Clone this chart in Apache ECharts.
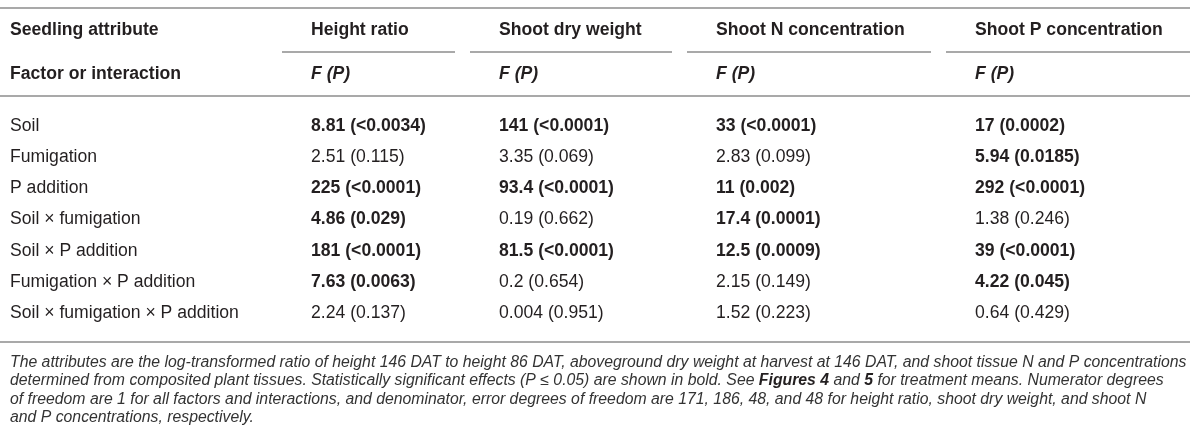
<!DOCTYPE html>
<html>
<head>
<meta charset="utf-8">
<script src="https://cdn.jsdelivr.net/npm/echarts@6/dist/echarts.min.js"></script>
<style>
  html, body { margin: 0; padding: 0; background: #fff; }
  #main { width: 1200px; height: 441px; }
</style>
</head>
<body>
<div id="main"></div>
<script>
// table contents
var factors = [
  "Soil",
  "Fumigation",
  "P addition",
  "Soil \u00d7 fumigation",
  "Soil \u00d7 P addition",
  "Fumigation \u00d7 P addition",
  "Soil \u00d7 fumigation \u00d7 P addition",
];
var attributes = ["Height ratio", "Shoot dry weight", "Shoot N concentration", "Shoot P concentration"];
var headerRows = ["Seedling attribute", "Factor or interaction"];

var heightF = [8.81, 2.51, 225, 4.86, 181, 7.63, 2.24];
var heightP = ["<0.0034", "0.115", "<0.0001", "0.029", "<0.0001", "0.0063", "0.137"];
var dryF = [141, 3.35, 93.4, 0.19, 81.5, 0.2, 0.004];
var dryP = ["<0.0001", "0.069", "<0.0001", "0.662", "<0.0001", "0.654", "0.951"];
var nF = [33, 2.83, 11, 17.4, 12.5, 2.15, 1.52];
var nP = ["<0.0001", "0.099", "0.002", "0.0001", "0.0009", "0.149", "0.223"];
var pF = [17, 5.94, 292, 1.38, 39, 4.22, 0.64];
var pP = ["0.0002", "0.0185", "<0.0001", "0.246", "<0.0001", "0.045", "0.429"];

var captionLines = [
  "The attributes are the log-transformed ratio of height 146 DAT to height 86 DAT, aboveground dry weight at harvest at 146 DAT, and shoot tissue N and P concentrations",
  "determined from composited plant tissues. Statistically significant effects (P \u2264 0.05) are shown in bold. See {b|Figures 4} and {b|5} for treatment means. Numerator degrees",
  "of freedom are 1 for all factors and interactions, and denominator, error degrees of freedom are 171, 186, 48, and 48 for height ratio, shoot dry weight, and shoot N",
  "and P concentrations, respectively.",
];

// layout (table units along the x axis)
var colX = [10, 311, 499, 716, 975];
var ruleEnd = 1190;
var FONT = "'Liberation Sans', Arial, Helvetica, sans-serif";
var TEXT = "#231f20";
var RULE = "#8c8c8c";

var fColumns = [heightF, dryF, nF, pF];
var pColumns = [heightP, dryP, nP, pP];

// body cells, bold when P <= 0.05
var bodyCells = [];
factors.forEach(function (f, r) {
  bodyCells.push({ col: 0, row: r, text: f, bold: false, italic: false });
  fColumns.forEach(function (fs, c) {
    var p = pColumns[c][r];
    bodyCells.push({
      col: c + 1,
      row: r,
      text: fs[r] + " (" + p + ")",
      bold: parseFloat(p.replace("<", "")) <= 0.05,
      italic: false,
    });
  });
});

var headCells = [{ col: 0, row: 0, text: headerRows[0], bold: true, italic: false }];
attributes.forEach(function (a, c) {
  headCells.push({ col: c + 1, row: 0, text: a, bold: true, italic: false });
});
headCells.push({ col: 0, row: 1, text: headerRows[1], bold: true, italic: false });
attributes.forEach(function (a, c) {
  headCells.push({ col: c + 1, row: 1, text: "F (P)", bold: true, italic: true });
});

function textItem(cells) {
  return function (params, api) {
    var cell = cells[params.dataIndex];
    var pt = api.coord([colX[cell.col], cell.row]);
    return {
      type: "text",
      x: pt[0],
      y: pt[1],
      style: {
        text: cell.text,
        fill: TEXT,
        fontFamily: FONT,
        fontSize: 17.6,
        fontWeight: cell.bold ? "bold" : "normal",
        fontStyle: cell.italic ? "italic" : "normal",
        align: "left",
        verticalAlign: "middle",
      },
    };
  };
}

function hline(x1, x2, y) {
  return { type: "line", shape: { x1: x1, y1: y, x2: x2, y2: y }, style: { stroke: RULE, lineWidth: 1.6 } };
}

var myChart = echarts.init(document.getElementById("main"));

var option = {
  animation: false,
  backgroundColor: "#fff",
  title: {
    left: 10,
    top: 353,
    padding: 0,
    text: captionLines.join("\n"),
    textStyle: {
      fontFamily: FONT,
      fontSize: 15.8,
      fontStyle: "italic",
      fontWeight: "normal",
      color: "#333",
      lineHeight: 18.6,
      rich: {
        b: { fontFamily: FONT, fontSize: 15.8, fontStyle: "italic", fontWeight: "bold", color: "#231f20", lineHeight: 18.6 },
      },
    },
  },
  grid: [
    { left: 0, right: 0, top: 8, height: 88 },
    { left: 0, right: 0, top: 110, height: 219 },
  ],
  xAxis: [
    { type: "value", gridIndex: 0, min: 0, max: 1200, show: false },
    { type: "value", gridIndex: 1, min: 0, max: 1200, show: false },
  ],
  yAxis: [
    { type: "category", gridIndex: 0, data: headerRows, inverse: true, show: false },
    { type: "category", gridIndex: 1, data: factors, inverse: true, show: false },
  ],
  series: [
    {
      type: "custom",
      name: "rules",
      xAxisIndex: 0,
      yAxisIndex: 0,
      data: [[0, 0]],
      renderItem: function (params, api) {
        var band = api.size([0, 1])[1];
        var row0 = api.coord([0, 0])[1];
        var row1 = api.coord([0, 1])[1];
        var x0 = api.coord([0, 0])[0];
        var xe = api.coord([ruleEnd, 0])[0];
        var lines = [hline(x0, xe, row0 - band / 2), hline(x0, xe, row1 + band / 2)];
        for (var c = 1; c < colX.length; c++) {
          var s = api.coord([colX[c] - 29, 0])[0];
          var e = c + 1 < colX.length ? api.coord([colX[c + 1] - 44, 0])[0] : xe;
          lines.push(hline(s, e, row0 + band / 2));
        }
        return { type: "group", children: lines };
      },
    },
    {
      type: "custom",
      name: "bottom rule",
      xAxisIndex: 1,
      yAxisIndex: 1,
      data: [[0, factors.length - 1]],
      renderItem: function (params, api) {
        var band = api.size([0, 1])[1];
        var last = api.coord([0, factors.length - 1]);
        var xe = api.coord([ruleEnd, 0])[0];
        return hline(last[0], xe, last[1] + band / 2 + 13);
      },
    },
    {
      type: "custom",
      name: "header",
      xAxisIndex: 0,
      yAxisIndex: 0,
      data: headCells.map(function (c) { return [colX[c.col], c.row]; }),
      renderItem: textItem(headCells),
    },
    {
      type: "custom",
      name: "body",
      xAxisIndex: 1,
      yAxisIndex: 1,
      data: bodyCells.map(function (c) { return [colX[c.col], c.row]; }),
      renderItem: textItem(bodyCells),
    },
  ],
};

myChart.setOption(option);
</script>
</body>
</html>
